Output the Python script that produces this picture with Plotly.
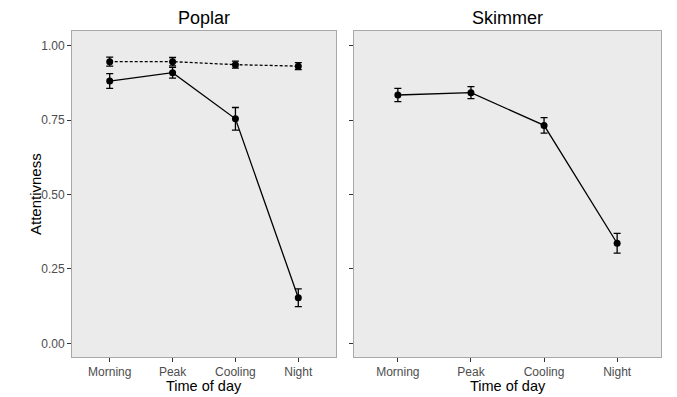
import plotly.graph_objects as go

times = ["Morning", "Peak", "Cooling", "Night"]

poplar_solid = [0.881, 0.909, 0.754, 0.153]
poplar_solid_err = [0.025, 0.018, 0.038, 0.030]
poplar_dashed = [0.946, 0.946, 0.936, 0.931]
poplar_dashed_err = [0.015, 0.014, 0.012, 0.012]
skimmer = [0.834, 0.842, 0.732, 0.336]
skimmer_err = [0.022, 0.020, 0.026, 0.033]

y_ticks = [0.0, 0.25, 0.5, 0.75, 1.0]

fig = go.Figure()

def add_series(y, err, xa, ya, dash):
    fig.add_trace(go.Scatter(
        x=times, y=y, xaxis=xa, yaxis=ya, mode="lines+markers",
        line=dict(color="black", width=1.3, dash=dash),
        marker=dict(color="black", size=7),
        error_y=dict(type="data", array=err, visible=True, color="black",
                     thickness=1.3, width=3.5),
        showlegend=False))

add_series(poplar_dashed, poplar_dashed_err, "x", "y", "3px,2px")
add_series(poplar_solid, poplar_solid_err, "x", "y", "solid")
add_series(skimmer, skimmer_err, "x2", "y2", "solid")

W, H = 677, 397
yrange = [-0.046, 1.049]
axis_common = dict(showgrid=False, zeroline=False, showline=True, mirror=True,
                   linecolor="#A8A8A8", linewidth=1, ticks="outside",
                   ticklen=4, tickcolor="#333333", tickwidth=1,
                   tickfont=dict(family="Liberation Sans, Arial", size=12, color="#4D4D4D"))

def ann(text, x, y, size, angle=0):
    return dict(text=text, x=x / W, y=1 - y / H, xref="paper", yref="paper",
                showarrow=False, textangle=angle, font=dict(size=size, color="black"),
                xanchor="center", yanchor="middle")

fig.update_layout(
    width=W, height=H,
    margin=dict(l=0, r=0, t=0, b=0),
    paper_bgcolor="white", plot_bgcolor="#EBEBEB",
    font=dict(family="Liberation Sans, Arial", color="black"),
    xaxis=dict(domain=[72 / W, 336 / W], type="category", range=[-0.6, 3.6],
               categoryorder="array", categoryarray=times, anchor="y", **axis_common),
    yaxis=dict(domain=[1 - 357 / H, 1 - 31 / H], range=yrange, anchor="x",
               tickvals=y_ticks, tickformat=".2f", **axis_common),
    xaxis2=dict(domain=[354 / W, 661 / W], type="category", range=[-0.6, 3.6],
                categoryorder="array", categoryarray=times, anchor="y2", **axis_common),
    yaxis2=dict(domain=[1 - 357 / H, 1 - 31 / H], range=yrange, anchor="x2",
                tickvals=y_ticks, showticklabels=False, **axis_common),
    annotations=[
        ann("Poplar", (72 + 336) / 2, 18, 18),
        ann("Skimmer", (354 + 661) / 2, 18, 18),
        ann("Attentivness", 35, 194, 15, -90),
        ann("Time of day", (72 + 336) / 2, 386, 14.5),
        ann("Time of day", (354 + 661) / 2, 386, 14.5),
    ],
)

fig.write_html("out.html", config={"displayModeBar": False},
               post_script="document.body.style.margin='0px';")
